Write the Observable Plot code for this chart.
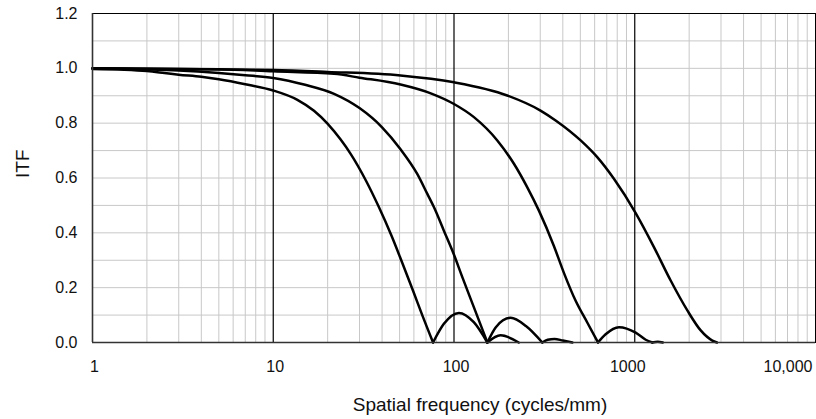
<!DOCTYPE html>
<html><head><meta charset="utf-8">
<script src="https://cdn.jsdelivr.net/npm/d3@7"></script>
<script src="https://cdn.jsdelivr.net/npm/@observablehq/plot@0.6"></script>
<style>html,body{margin:0;padding:0;background:#fff} svg{display:block}</style>
</head><body><div id="chart"></div>
<script>
// Curve 1 (first zero ~77 cycles/mm)
const freq1 = [1, 1.5, 2, 2.5, 3, 4, 5, 7, 10, 13.6, 16.8, 19.9, 23.6, 26.8, 32.6, 38.4, 45, 51.9, 59.5, 66.9, 76.6, 87.9, 106.5, 128.7, 153, 181, 228];
const itf1  = [0.998, 0.995, 0.99, 0.983, 0.977, 0.969, 0.96, 0.942, 0.919, 0.885, 0.845, 0.799, 0.740, 0.688, 0.590, 0.494, 0.391, 0.288, 0.187, 0.098, 0, 0.068, 0.108, 0.074, 0, 0.026, 0];
// Curve 2 (first zero ~153)
const freq2 = [1, 2, 3, 5, 7, 10, 15, 21.7, 30, 40, 50.6, 62.6, 71.2, 77.4, 87.9, 100, 110.5, 128.9, 153, 170, 205.7, 250, 308, 330, 360, 400, 452];
const itf2  = [1.0, 0.996, 0.992, 0.983, 0.975, 0.965, 0.940, 0.907, 0.855, 0.785, 0.705, 0.615, 0.542, 0.494, 0.408, 0.320, 0.243, 0.128, 0, 0.055, 0.090, 0.060, 0, 0.010, 0.013, 0.007, 0];
// Curve 3 (first zero ~626)
const freq3 = [1, 5, 10, 21.7, 30, 50.6, 75, 100, 128.9, 173.6, 214.6, 254.4, 295, 357, 405, 471, 547, 626, 690, 818, 1012, 1150, 1250, 1340, 1430];
const itf3  = [1.0, 0.997, 0.989, 0.980, 0.966, 0.941, 0.908, 0.870, 0.822, 0.737, 0.652, 0.566, 0.481, 0.352, 0.255, 0.152, 0.072, 0, 0.030, 0.056, 0.036, 0.010, 0, 0.003, 0];
// Curve 4 (smooth roll-off to ~2850)
const freq4 = [1, 10, 20, 50.6, 100, 197, 301, 365, 502, 620, 767, 1012, 1277, 1580, 1954, 2317, 2688, 2850];
const itf4  = [1.0, 0.994, 0.987, 0.974, 0.949, 0.901, 0.846, 0.810, 0.737, 0.676, 0.597, 0.472, 0.348, 0.226, 0.117, 0.044, 0.007, 0];

const xTickValues = [1, 10, 100, 1000, 10000];
const xTickLabels = ["1", "10", "100", "1000", "10,000"];
const yTickValues = [0, 0.2, 0.4, 0.6, 0.8, 1.0, 1.2];
const majorX = [10, 100, 1000];

// Build rows, splitting each curve into lobes at its zeros
function lobes(freq, itf, name) {
  const rows = []; let s = 0;
  freq.forEach((f, i) => {
    rows.push({f, v: itf[i], k: name + "-" + s});
    if (itf[i] === 0 && i > 0 && i < freq.length - 1) { s++; rows.push({f, v: 0, k: name + "-" + s}); }
  });
  return rows;
}
const rows = [
  ...lobes(freq1, itf1, "c1"), ...lobes(freq2, itf2, "c2"),
  ...lobes(freq3, itf3, "c3"), ...lobes(freq4, itf4, "c4")
];

const minorX = [];
for (const p of [1, 10, 100, 1000]) for (let m = 2; m <= 9; m++) minorX.push(m * p);
const minorY = d3.range(1, 12).map(i => i / 10);

const font = "'Liberation Sans', Arial, sans-serif";
const chart = Plot.plot({
  width: 816, height: 419,
  marginLeft: 92, marginRight: 1, marginTop: 13, marginBottom: 77,
  x: {type: "log", domain: [1, 10000], axis: null},
  y: {domain: [0, 1.2], axis: null},
  style: {fontFamily: font, fontSize: "16px", background: "#fff", color: "#000"},
  marks: [
    Plot.ruleX(minorX, {stroke: "#c8c8c8", strokeWidth: 1}),
    Plot.ruleY(minorY, {stroke: "#c8c8c8", strokeWidth: 1}),
    Plot.ruleX(majorX, {stroke: "#000", strokeWidth: 1.2}),
    Plot.line(rows, {x: "f", y: "v", z: "k", curve: "monotone-x", stroke: "#000", strokeWidth: 2.5}),
    Plot.frame({stroke: "#000", strokeWidth: 1}),
    Plot.ruleY([0], {stroke: "#333", strokeWidth: 1.6}),
    Plot.ruleX([1], {stroke: "#333", strokeWidth: 1.6}),
    Plot.text(yTickValues, {y: d => d, text: d => d3.format(".1f")(d), frameAnchor: "left", textAnchor: "end", dx: -15, lineAnchor: "middle", fontSize: 16, fill: "#111"}),
    Plot.text(xTickValues, {x: d => d, text: (d, i) => xTickLabels[i], filter: (d, i) => i < 3, frameAnchor: "bottom", dy: 24, dx: 2, lineAnchor: "middle", fontSize: 16, fill: "#111"}),
    Plot.text(xTickValues, {x: d => d, text: (d, i) => xTickLabels[i], filter: (d, i) => i === 3, frameAnchor: "bottom", dy: 24, dx: -7, lineAnchor: "middle", fontSize: 16, fill: "#111"}),
    Plot.text(xTickValues, {x: d => d, text: (d, i) => xTickLabels[i], filter: (d, i) => i === 4, frameAnchor: "bottom", dy: 24, dx: -3, textAnchor: "end", lineAnchor: "middle", fontSize: 16, fill: "#111"}),
    Plot.text(["ITF"], {frameAnchor: "left", dx: -70, rotate: -90, lineAnchor: "middle", fontSize: 19, fill: "#111"}),
    Plot.text(["Spatial frequency (cycles/mm)"], {frameAnchor: "bottom", dx: 26, dy: 62, lineAnchor: "middle", fontSize: 19, fill: "#111"})
  ]
});
document.getElementById("chart").appendChild(chart);
</script>
</body></html>
